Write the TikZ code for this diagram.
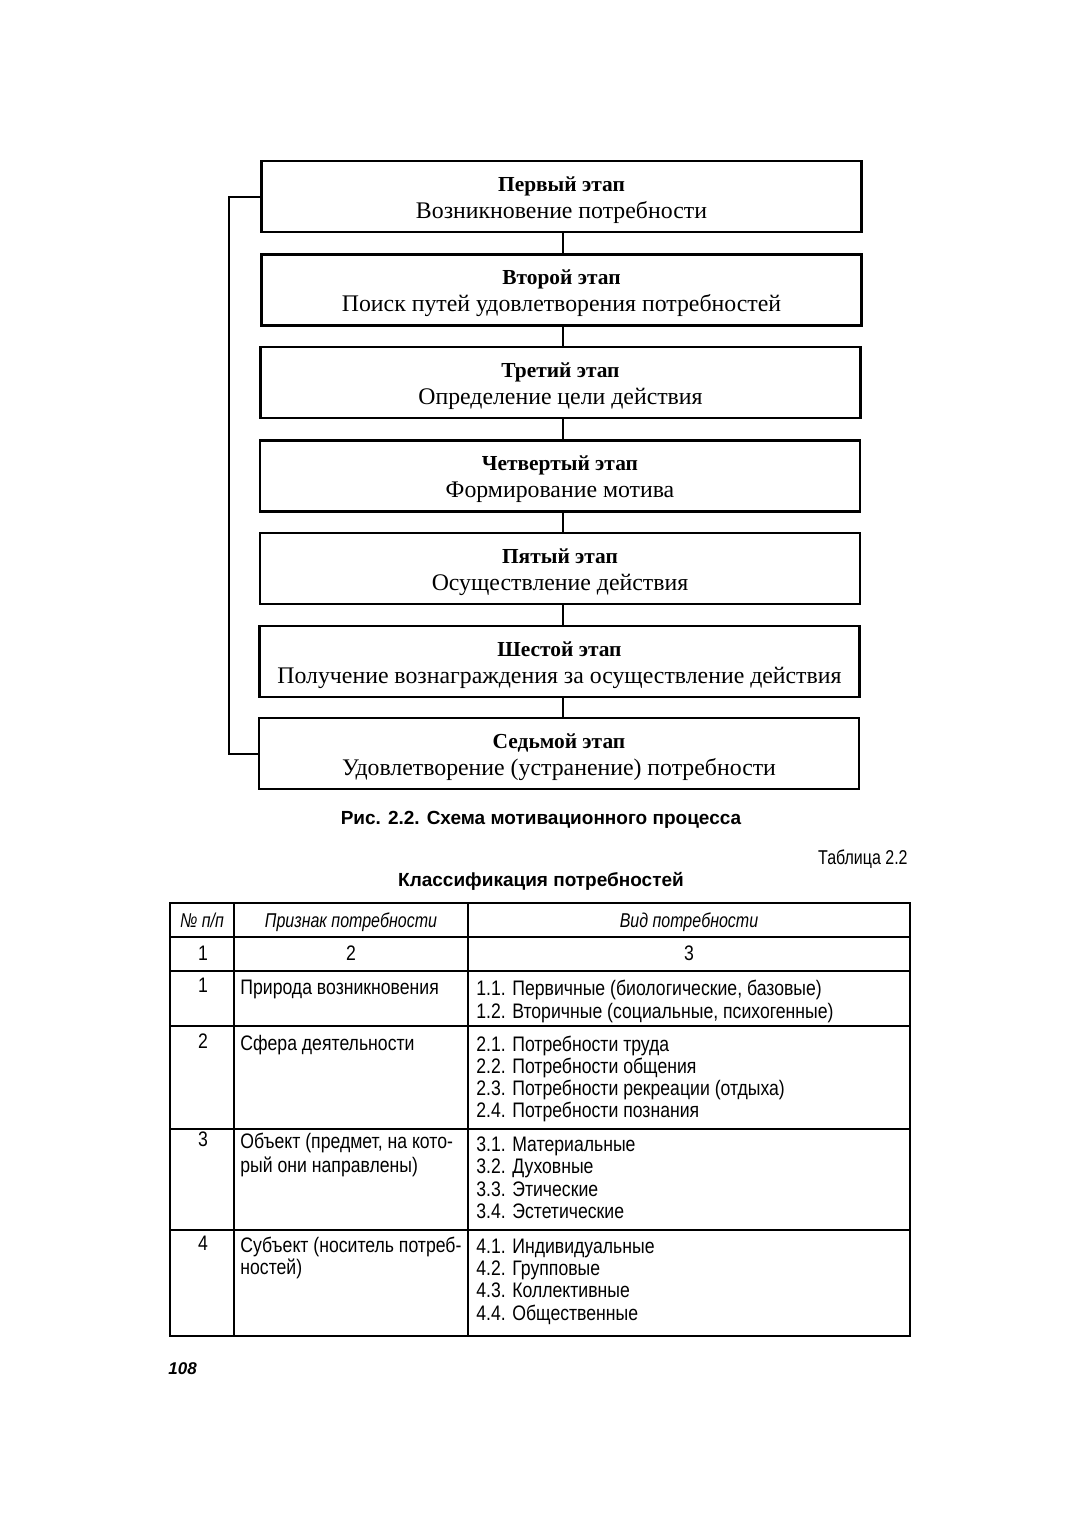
\documentclass[tikz,border=0pt]{standalone}
\usepackage{fontspec}
\setmainfont{Liberation Serif}
\newfontfamily\tsans{Liberation Sans}[FakeStretch=0.84]
\newfontfamily\hsans{Liberation Sans}[FakeStretch=0.8]
\newfontfamily\capsans{Liberation Sans}
\newcommand{\stt}[1]{{\fontsize{10.7}{13.5}\selectfont\bfseries #1}}
\begin{document}
\begin{tikzpicture}[x=0.5pt,y=-0.5pt,
  stagebox/.style={draw, line width=1.3pt, minimum width=300pt, minimum height=35.5pt, inner sep=0pt},
  stagetext/.style={align=center, inner sep=0pt, font=\fontsize{11.9}{13.5}\selectfont},
  link/.style={line width=1pt},
  tline/.style={line width=1pt},
  tout/.style={line width=1.3pt},
  cell/.style={anchor=base west, inner sep=0pt, font=\tsans\fontsize{10.5}{11}\selectfont},
  ccell/.style={anchor=base, inner sep=0pt, font=\tsans\fontsize{10.5}{11}\selectfont},
  hcell/.style={anchor=base, inner sep=0pt, font=\hsans\itshape\fontsize{10}{11}\selectfont}]
\useasboundingbox[fill=white] (0,0) rectangle (1078,1532);

% stages
\node[stagebox] (s1) at (561.5,196.5) {};
\node[stagebox] (s2) at (561.5,290) {};
\node[stagebox] (s3) at (560.5,382.5) {};
\node[stagebox] (s4) at (560,476) {};
\node[stagebox] (s5) at (560,568.5) {};
\node[stagebox] (s6) at (559.5,661.5) {};
\node[stagebox] (s7) at (559,753.5) {};
\node[stagetext] (t1) at ([yshift=-1.75pt]s1.center) {\stt{Первый этап}\\Возникновение потребности};
\node[stagetext] (t2) at ([yshift=-1.75pt]s2.center) {\stt{Второй этап}\\Поиск путей удовлетворения потребностей};
\node[stagetext] (t3) at ([yshift=-1.75pt]s3.center) {\stt{Третий этап}\\Определение цели действия};
\node[stagetext] (t4) at ([yshift=-1.75pt]s4.center) {\stt{Четвертый этап}\\Формирование мотива};
\node[stagetext] (t5) at ([yshift=-1.75pt]s5.center) {\stt{Пятый этап}\\Осуществление действия};
\node[stagetext] (t6) at ([yshift=-1.75pt]s6.center) {\stt{Шестой этап}\\Получение вознаграждения за осуществление действия};
\node[stagetext] (t7) at ([yshift=-1.75pt]s7.center) {\stt{Седьмой этап}\\Удовлетворение (устранение) потребности};

\coordinate (cx) at (563,0);
\draw[link] (s1.south -| cx) -- (s2.north -| cx);
\draw[link] (s2.south -| cx) -- (s3.north -| cx);
\draw[link] (s3.south -| cx) -- (s4.north -| cx);
\draw[link] (s4.south -| cx) -- (s5.north -| cx);
\draw[link] (s5.south -| cx) -- (s6.north -| cx);
\draw[link] (s6.south -| cx) -- (s7.north -| cx);
\coordinate (fb) at (229,0);
\draw[link] (s1.west) -- (s1.west -| fb) |- (s7.west);

% captions
\node[anchor=base, inner sep=0pt, font=\capsans\bfseries\fontsize{9.5}{11}\selectfont] (cap) at (541,824) {Рис. 2.2. Схема мотивационного процесса};
\node[anchor=base east, inner sep=0pt, font=\hsans\fontsize{10}{11}\selectfont] (tabno) at (908,864) {Таблица 2.2};
\node[anchor=base, inner sep=0pt, font=\capsans\bfseries\fontsize{9.5}{11}\selectfont] (tabtitle) at (541,886) {Классификация потребностей};

% table grid
\draw[tout] (170,903) rectangle (910,1336);
\draw[tline] (234,903) -- (234,1336);
\draw[tline] (468,903) -- (468,1336);
\draw[tline] (170,937) -- (910,937);
\draw[tline] (170,971) -- (910,971);
\draw[tline] (170,1026) -- (910,1026);
\draw[tline] (170,1129) -- (910,1129);
\draw[tline] (170,1230) -- (910,1230);

% header
\node[hcell] (h1) at (202,927) {№ п/п};
\node[hcell] (h2) at (351,927) {Признак потребности};
\node[hcell] (h3) at (689,927) {Вид потребности};
\node[ccell] (n1) at (203,960) {1};
\node[ccell] (n2) at (351,960) {2};
\node[ccell] (n3) at (689,960) {3};

% row 1
\node[ccell] (r1a) at (203,992) {1};
\node[cell] (r1b) at (240,994) {Природа возникновения};
\node[cell] (r1c1) at (476,995) {1.1. Первичные (биологические, базовые)};
\node[cell] (r1c2) at (476,1018) {1.2. Вторичные (социальные, психогенные)};

% row 2
\node[ccell] (r2a) at (203,1048) {2};
\node[cell] (r2b) at (240,1050) {Сфера деятельности};
\node[cell] (r2c1) at (476,1051) {2.1. Потребности труда};
\node[cell] (r2c2) at (476,1073) {2.2. Потребности общения};
\node[cell] (r2c3) at (476,1095) {2.3. Потребности рекреации (отдыха)};
\node[cell] (r2c4) at (476,1117) {2.4. Потребности познания};

% row 3
\node[ccell] (r3a) at (203,1146) {3};
\node[cell] (r3b1) at (240,1148) {Объект (предмет, на кото-};
\node[cell] (r3b2) at (240,1172) {рый они направлены)};
\node[cell] (r3c1) at (476,1151) {3.1. Материальные};
\node[cell] (r3c2) at (476,1173) {3.2. Духовные};
\node[cell] (r3c3) at (476,1196) {3.3. Этические};
\node[cell] (r3c4) at (476,1218) {3.4. Эстетические};

% row 4
\node[ccell] (r4a) at (203,1250) {4};
\node[cell] (r4b1) at (240,1252) {Субъект (носитель потреб-};
\node[cell] (r4b2) at (240,1274) {ностей)};
\node[cell] (r4c1) at (476,1253) {4.1. Индивидуальные};
\node[cell] (r4c2) at (476,1275) {4.2. Групповые};
\node[cell] (r4c3) at (476,1297) {4.3. Коллективные};
\node[cell] (r4c4) at (476,1320) {4.4. Общественные};

% page number
\node[anchor=base west, inner sep=0pt, font=\capsans\bfseries\itshape\fontsize{8.5}{10}\selectfont] (page) at (168,1374) {108};
\end{tikzpicture}
\end{document}
